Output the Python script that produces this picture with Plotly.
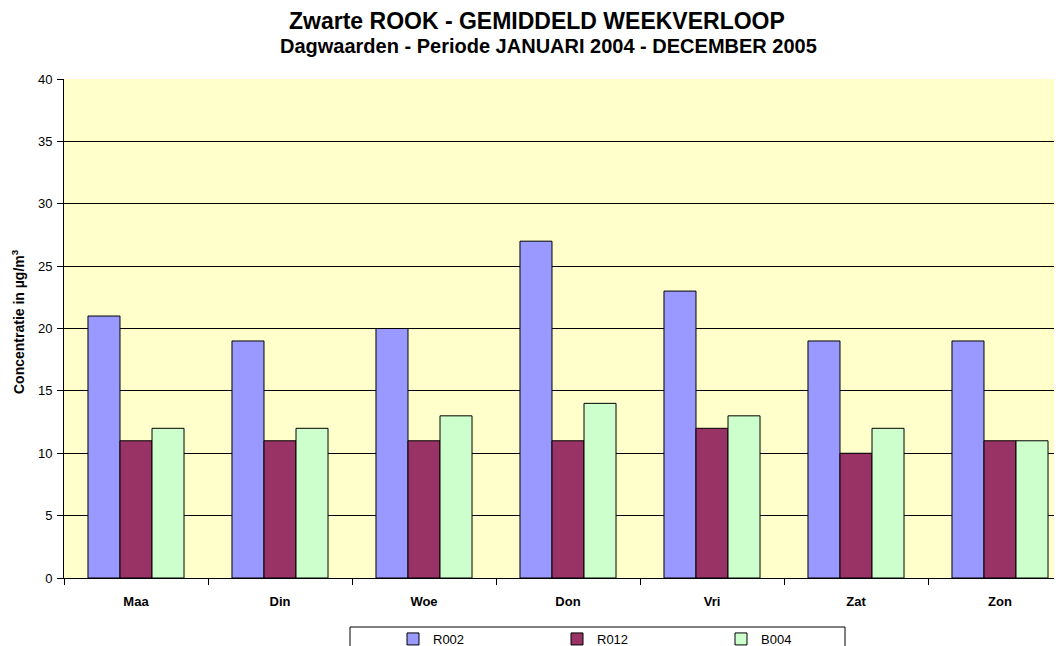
import plotly.graph_objects as go

days = ["Maa", "Din", "Woe", "Don", "Vri", "Zat", "Zon"]
r002 = [21, 19, 20, 27, 23, 19, 19]
r012 = [11, 11, 11, 11, 12, 10, 11]
b004 = [12, 12, 13, 14, 13, 12, 11]
series_names = ["R002", "R012", "B004"]
colors = ["#9999FF", "#993366", "#CCFFCC"]
yticks = [0, 5, 10, 15, 20, 25, 30, 35, 40]

W, H = 1062, 646
OFF = 8  # page body margin offset of the rendered figure
ML, MR, MT, MB = 64 - OFF, 0, 79 - OFF, 646 - (578 - OFF)
plot_w = W - ML - MR
plot_h = H - MT - MB
cat_w = 144.0

def px_x(px):
    # px given in window coordinates
    return (px - OFF - ML) / plot_w

def px_y(py):
    return (H - MB - (py - OFF)) / plot_h

fig = go.Figure()
for name, vals, col in zip(series_names, [r002, r012, b004], colors):
    fig.add_trace(go.Bar(x=days, y=vals, name=name,
                         marker=dict(color=col, line=dict(color="black", width=1))))

fig.update_layout(
    width=W, height=H,
    margin=dict(l=ML, r=MR, t=MT, b=MB, autoexpand=False),
    paper_bgcolor="white",
    plot_bgcolor="#FFFFCC",
    barmode="group",
    bargap=0.333,
    bargroupgap=0,
    font=dict(family="Arial, Liberation Sans", size=13, color="black"),
    showlegend=True,
    legend=dict(
        orientation="h", x=px_x(393), xanchor="left", y=px_y(624), yanchor="top",
        borderwidth=0, bgcolor="rgba(0,0,0,0)", entrywidth=119, entrywidthmode="pixels",
        font=dict(size=13), itemwidth=30, tracegroupgap=0,
    ),
    shapes=[dict(type="rect", xref="paper", yref="paper",
                 x0=px_x(350), x1=px_x(845), y0=px_y(627), y1=px_y(670),
                 line=dict(color="black", width=1), fillcolor="white", layer="below")],
    annotations=[
        dict(text="<b>Zwarte ROOK - GEMIDDELD WEEKVERLOOP</b>", x=px_x(537), y=px_y(21),
             xref="paper", yref="paper", xanchor="center", yanchor="middle",
             showarrow=False, font=dict(size=23)),
        dict(text="<b>Dagwaarden - Periode JANUARI 2004 - DECEMBER 2005</b>", x=px_x(548), y=px_y(46),
             xref="paper", yref="paper", xanchor="center", yanchor="middle",
             showarrow=False, font=dict(size=20)),
        dict(text="<b>Concentratie in µg/m<sup>3</sup></b>", x=px_x(18), y=px_y(322),
             xref="paper", yref="paper", xanchor="center", yanchor="middle", textangle=-90,
             showarrow=False, font=dict(size=14)),
    ],
)

fig.update_xaxes(
    range=[-0.5, -0.5 + plot_w / cat_w],
    showline=True, linecolor="black", linewidth=1,
    ticks="outside", tickson="boundaries", ticklen=6, tickcolor="black",
    ticktext=["<b>%s</b>" % d for d in days], tickvals=days,
    tickfont=dict(size=13), ticklabelstandoff=11,
    showgrid=False,
)
fig.update_yaxes(
    range=[0, 40], tickvals=yticks, showgrid=True, gridcolor="black", gridwidth=1,
    showline=True, linecolor="black", linewidth=1,
    ticks="outside", ticklen=6, tickcolor="black", tickfont=dict(size=13),
    ticklabelstandoff=2,
    zeroline=False,
)

fig.write_html("out.html")
